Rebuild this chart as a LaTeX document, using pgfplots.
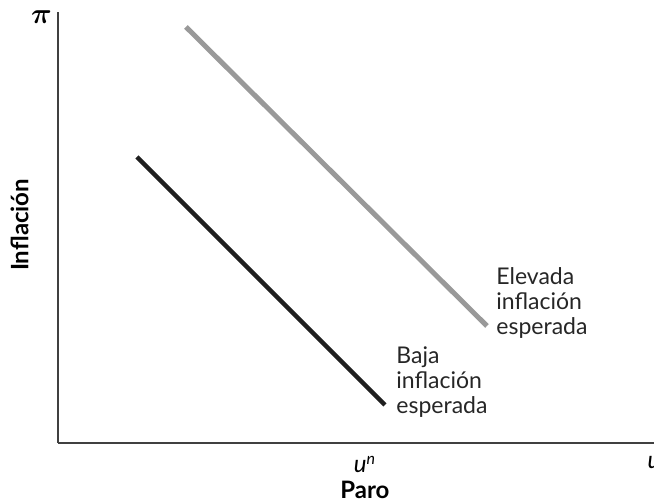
\documentclass[border=0pt]{standalone}
\usepackage{fontspec}
\setmainfont{Lato}
\usepackage{pgfplots}
\pgfplotsset{compat=1.18}
\begin{document}
\begin{tikzpicture}[x=0.5pt,y=0.5pt]
\begin{axis}[
    scale only axis,
    width=298pt, height=215.5pt,
    xmin=58, xmax=654, ymin=58, ymax=489,
    axis lines=left,
    axis line style={-, line width=0.9pt, black!75},
    clip=false,
    xtick={365,654}, xticklabels={\textit{u}\textsuperscript{\textit{n}}, \textit{u}},
    ytick={484}, yticklabels={$\pi$},
    major tick length=0pt,
    xticklabel style={font=\fontsize{12}{13}\selectfont, yshift=-3pt},
    yticklabel style={font=\fontsize{15}{15}\selectfont\boldmath, xshift=0.5pt},
    xlabel={\textbf{Paro}}, ylabel={\textbf{Inflación}},
    label style={font=\fontsize{12}{13}\selectfont},
    xlabel style={at={(ticklabel cs:0.515)}, yshift=3pt},
    ylabel style={at={(ticklabel cs:0.506)}, yshift=-5.5pt},
]
\addplot[line width=2.5pt, black!40, line cap=butt] coordinates {(186,474) (487,175)};
\addplot[line width=2.2pt, black!88, line cap=butt] coordinates {(137,344) (385,96)};
\node[anchor=north west, align=left, inner sep=0pt, font=\fontsize{11.5}{12.5}\selectfont, text=black!85] at (axis cs:496,234) {Elevada\\inflación\\esperada};
\node[anchor=north west, align=left, inner sep=0pt, font=\fontsize{11.5}{12.5}\selectfont, text=black!85] at (axis cs:396,155) {Baja\\inflación\\esperada};
\coordinate (BL) at (axis cs:0,0);
\coordinate (TR) at (axis cs:654,501);
\end{axis}
\pgfresetboundingbox
\useasboundingbox (BL) rectangle (TR);
\end{tikzpicture}
\end{document}
